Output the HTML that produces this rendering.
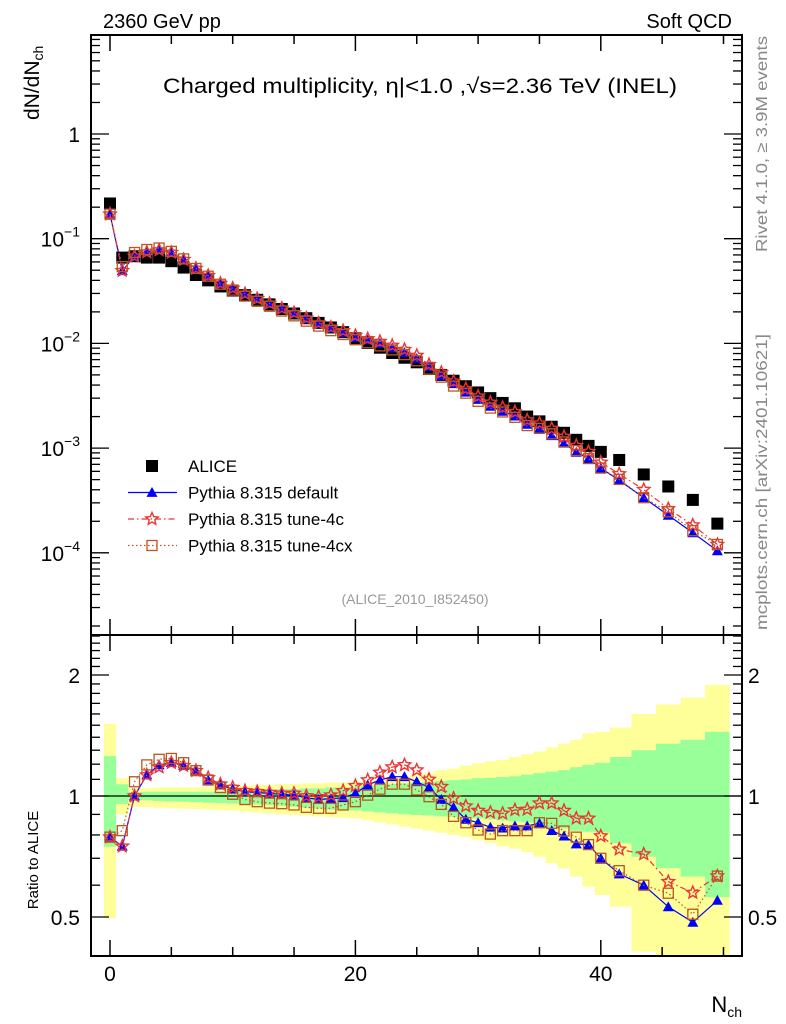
<!DOCTYPE html>
<html><head><meta charset="utf-8"><style>
html,body{margin:0;padding:0;background:#fff;}
svg{display:block;font-family:"Liberation Sans",sans-serif;}
</style></head><body>
<svg id="chart" width="786" height="1024" viewBox="0 0 786 1024" xmlns="http://www.w3.org/2000/svg">
<defs>
<clipPath id="clipMain"><rect x="91" y="35" width="651" height="600"/></clipPath>
<clipPath id="clipRatio"><rect x="91" y="635" width="651" height="321"/></clipPath>
</defs>
<g id="bands" clip-path="url(#clipRatio)"></g>
<g id="series"></g>
<g id="axes"></g>
<text x="103" y="28" font-size="20">2360 GeV pp</text>
<text x="732" y="28" font-size="20" text-anchor="end">Soft QCD</text>
<text x="163" y="93" font-size="21" textLength="514" lengthAdjust="spacingAndGlyphs">Charged multiplicity, η|&lt;1.0 ,√s=2.36 TeV (INEL)</text>
<text x="415" y="604" font-size="14" fill="#999" text-anchor="middle">(ALICE_2010_I852450)</text>
<text transform="translate(39,120) rotate(-90)" font-size="21">dN/dN<tspan font-size="14" dy="4">ch</tspan></text>
<text transform="translate(38,860) rotate(-90)" font-size="15" text-anchor="middle">Ratio to ALICE</text>
<text x="742" y="1012" font-size="22" text-anchor="end">N<tspan font-size="14" dy="5">ch</tspan></text>
<text transform="translate(767,252) rotate(-90)" font-size="16" fill="#888" textLength="216" lengthAdjust="spacingAndGlyphs">Rivet 4.1.0, ≥ 3.9M events</text>
<text transform="translate(767,630) rotate(-90)" font-size="16" fill="#888" textLength="296" lengthAdjust="spacingAndGlyphs">mcplots.cern.ch [arXiv:2401.10621]</text>
<g id="legend"></g>
</svg>
<script>
const nch = [0,1,2,3,4,5,6,7,8,9,10,11,12,13,14,15,16,17,18,19,20,21,22,23,24,25,26,27,28,29,30,31,32,33,34,35,36,37,38,39,40,41.5,43.5,45.5,47.5,49.5];
const alice = [0.217,0.066,0.068,0.066,0.066,0.061,0.053,0.045,0.040,0.035,0.032,0.0289,0.0261,0.0236,0.0213,0.0193,0.0174,0.0157,0.0142,0.0128,0.0112,0.0101,0.0091,0.0081,0.0073,0.0066,0.0057,0.0050,0.0044,0.0039,0.0034,0.0030,0.0027,0.0024,0.0020,0.0018,0.0016,0.0014,0.0012,0.00105,0.00092,0.00077,0.00056,0.00043,0.00032,0.00019];
const ratioDefault = [0.79,0.75,1.0,1.128,1.195,1.21,1.19,1.156,1.096,1.065,1.04,1.025,1.02,1.015,1.01,1.005,0.99,0.98,0.985,0.99,1.015,1.065,1.096,1.117,1.117,1.085,1.05,0.98,0.937,0.875,0.858,0.836,0.832,0.842,0.842,0.855,0.82,0.795,0.76,0.757,0.70,0.64,0.60,0.53,0.485,0.55];
const ratio4c = [0.79,0.75,1.0,1.128,1.18,1.21,1.19,1.156,1.11,1.07,1.05,1.03,1.025,1.02,1.015,1.015,1.0,0.995,1.005,1.03,1.06,1.096,1.145,1.18,1.195,1.16,1.10,1.055,0.987,0.944,0.92,0.91,0.905,0.923,0.926,0.96,0.96,0.92,0.88,0.88,0.795,0.737,0.717,0.612,0.575,0.632];
const ratio4cx = [0.79,0.82,1.085,1.195,1.234,1.24,1.21,1.156,1.096,1.05,1.01,0.98,0.968,0.96,0.957,0.95,0.937,0.932,0.932,0.95,0.968,1.005,1.04,1.07,1.07,1.035,0.996,0.953,0.89,0.858,0.823,0.804,0.82,0.82,0.82,0.858,0.855,0.818,0.79,0.757,0.70,0.652,0.60,0.573,0.508,0.632];
const yellowUp = [1.51,1.107,1.045,1.045,1.05,1.05,1.05,1.05,1.055,1.055,1.06,1.06,1.065,1.065,1.07,1.07,1.075,1.075,1.08,1.08,1.085,1.09,1.1,1.11,1.12,1.13,1.14,1.16,1.17,1.19,1.206,1.22,1.23,1.25,1.27,1.29,1.32,1.35,1.38,1.43,1.445,1.48,1.6,1.69,1.757,1.89];
const greenUp = [1.257,1.07,1.025,1.025,1.025,1.025,1.025,1.025,1.025,1.025,1.03,1.03,1.035,1.035,1.04,1.04,1.045,1.045,1.05,1.05,1.055,1.06,1.065,1.07,1.075,1.08,1.085,1.09,1.095,1.1,1.107,1.11,1.115,1.12,1.13,1.14,1.15,1.16,1.18,1.195,1.21,1.25,1.30,1.35,1.38,1.445];
const greenDn = [0.748,0.956,0.977,0.975,0.972,0.97,0.968,0.965,0.962,0.96,0.957,0.955,0.952,0.95,0.945,0.94,0.935,0.93,0.925,0.922,0.92,0.915,0.91,0.905,0.9,0.897,0.894,0.89,0.886,0.883,0.88,0.875,0.87,0.865,0.86,0.84,0.835,0.83,0.82,0.815,0.81,0.763,0.706,0.661,0.63,0.56];
const yellowDn = [0.497,0.90,0.94,0.938,0.935,0.932,0.93,0.928,0.925,0.922,0.92,0.915,0.91,0.905,0.90,0.898,0.895,0.89,0.886,0.883,0.88,0.87,0.86,0.85,0.84,0.83,0.82,0.81,0.80,0.79,0.777,0.765,0.75,0.74,0.725,0.706,0.68,0.66,0.63,0.595,0.567,0.53,0.41,0.38,0.38,0.38];
const xTickLabels = [0,20,40];
const mainTickExp = [0,-1,-2,-3,-4];
const ratioTickLabels = [0.5,1,2];

const NS="http://www.w3.org/2000/svg";
const X0=91,X1=742,MT=35,MB=635,RT=635,RB=956;
function xs(n){return 110+12.27*n;}
function ym(v){return 134-104.7*Math.log10(v);}
function yr(r){return 796-402*Math.log10(r);}
function mk(tag,attrs,parent){const e=document.createElementNS(NS,tag);for(const k in attrs)e.setAttribute(k,attrs[k]);parent.appendChild(e);return e;}
const bands=document.getElementById('bands'),series=document.getElementById('series'),axes=document.getElementById('axes'),legend=document.getElementById('legend');

const edges=[];
for(let i=0;i<nch.length;i++){
  const lo=i===0?nch[0]-0.5:(nch[i-1]+nch[i])/2;
  const hi=i===nch.length-1?nch[i]+(nch[i]-nch[i-1])/2:(nch[i]+nch[i+1])/2;
  edges.push([lo,hi]);
}
function bandPath(up,dn){
  let top='',bot='';
  for(let i=0;i<nch.length;i++){top+=(i?'L':'M')+xs(edges[i][0])+','+yr(up[i])+'L'+xs(edges[i][1])+','+yr(up[i]);}
  for(let i=nch.length-1;i>=0;i--){bot+='L'+xs(edges[i][1])+','+yr(dn[i])+'L'+xs(edges[i][0])+','+yr(dn[i]);}
  return top+bot+'Z';
}
let p=mk('path',{d:bandPath(yellowUp,yellowDn),fill:'#ffff99'},bands);


p=mk('path',{d:bandPath(greenUp,greenDn),fill:'#99ff99'},bands);


p=mk('line',{x1:X0,x2:X1,y1:yr(1),y2:yr(1),stroke:'#000','stroke-width':1.2},bands);



function triangle(g,x,y,s,col){return mk('path',{d:`M${x},${y-s}L${x+s},${y+s*0.8}L${x-s},${y+s*0.8}Z`,fill:col},g);}
function star(g,x,y,r,col){let d='';for(let k=0;k<10;k++){const a=-Math.PI/2+k*Math.PI/5,rr=k%2?r*0.45:r;d+=(k?'L':'M')+(x+rr*Math.cos(a)).toFixed(1)+','+(y+rr*Math.sin(a)).toFixed(1);}return mk('path',{d:d+'Z',fill:'none',stroke:col,'stroke-width':1.4},g);}
function sq(g,x,y,s,col,fill){return mk('rect',{x:x-s,y:y-s,width:2*s,height:2*s,fill:fill?col:'none',stroke:col,'stroke-width':fill?0:1.3},g);}

const specs=[
 {name:'pythia-default',col:'#0000ff',dash:'',ratio:ratioDefault,m:'tri'},
 {name:'pythia-tune-4c',col:'#ee3333',dash:'6,3,1.5,3',ratio:ratio4c,m:'star'},
 {name:'pythia-tune-4cx',col:'#bb5522',dash:'1.5,2.5',ratio:ratio4cx,m:'sq'}
];
const ga=mk('g',{},series);


ga.setAttribute('clip-path','url(#clipMain)');
for(let i=0;i<nch.length;i++){const r=sq(ga,xs(nch[i]),ym(alice[i]),6,'#000',true);}
function drawMarker(g,m,x,y,col){if(m==='tri')return triangle(g,x,y,5.5,col);if(m==='star')return star(g,x,y,6.5,col);return sq(g,x,y,5,col,false);}
specs.forEach(s=>{
  [['main',ym,'url(#clipMain)'],['ratio',yr,'url(#clipRatio)']].forEach(([panel,yf,clip])=>{
    const g=mk('g',{'clip-path':clip},series);
    
    
    let d='';
    for(let i=0;i<nch.length;i++){const v=panel==='main'?alice[i]*s.ratio[i]:s.ratio[i];d+=(i?'L':'M')+xs(nch[i]).toFixed(1)+','+yf(v).toFixed(1);}
    const l=mk('path',{d:d,fill:'none',stroke:s.col,'stroke-width':1.2,'stroke-dasharray':s.dash},g);
    
    
    for(let i=0;i<nch.length;i++){const v=panel==='main'?alice[i]*s.ratio[i]:s.ratio[i];const e=drawMarker(g,s.m,xs(nch[i]),yf(v),s.col);}
  });
});

[[MT,MB],[RT,RB]].forEach(([t,b],idx)=>{
  const r=mk('rect',{x:X0,y:t,width:X1-X0,height:b-t,fill:'none',stroke:'#000','stroke-width':2},axes);
  
  
  for(let n=0;n<=50;n+=5){
    const x=xs(n),L=(n%20===0)?16:9;
    mk('line',{x1:x,x2:x,y1:b,y2:b-L,stroke:'#000','stroke-width':1.5},axes);
    mk('line',{x1:x,x2:x,y1:t,y2:t+L,stroke:'#000','stroke-width':1.5},axes);
  }
});
xTickLabels.forEach(v=>{const t=mk('text',{x:xs(v),y:981,'font-size':21,'text-anchor':'middle'},axes);t.textContent=v;});
for(let e=1;e>=-5;e--){for(let k=1;k<10;k++){const v=k*Math.pow(10,e);const y=ym(v);if(y<MT||y>MB)continue;const L=k===1?18:9;
  mk('line',{x1:X0,x2:X0+L,y1:y,y2:y,stroke:'#000','stroke-width':1.3},axes);
  mk('line',{x1:X1,x2:X1-L,y1:y,y2:y,stroke:'#000','stroke-width':1.3},axes);}}
mainTickExp.forEach(e=>{const y=ym(Math.pow(10,e));const t=mk('text',{x:80,y:y+8,'font-size':21,'text-anchor':'end'},axes);
  if(e===0)t.textContent='1';else{t.textContent='10';const s=mk('tspan',{dy:-10,'font-size':14},t);s.textContent='−'+(-e);}
  });
[0.4,0.5,0.6,0.7,0.8,0.9,1,1.1,1.2,1.3,1.4,1.5,1.6,1.7,1.8,1.9,2,2.1,2.2,2.3,2.4,2.5].forEach(v=>{const y=yr(v);if(y<RT||y>RB)return;const L=(v===0.5||v===1||v===2)?18:9;
  mk('line',{x1:X0,x2:X0+L,y1:y,y2:y,stroke:'#000','stroke-width':1.3},axes);
  mk('line',{x1:X1,x2:X1-L,y1:y,y2:y,stroke:'#000','stroke-width':1.3},axes);});
ratioTickLabels.forEach(v=>{const y=yr(v)+8;
  let t=mk('text',{x:80,y:y,'font-size':21,'text-anchor':'end'},axes);t.textContent=v;
  t=mk('text',{x:748,y:y,'font-size':21},axes);t.textContent=v;});

const lrows=[['ALICE',null],['Pythia 8.315 default',specs[0]],['Pythia 8.315 tune-4c',specs[1]],['Pythia 8.315 tune-4cx',specs[2]]];
lrows.forEach((r,i)=>{const y=466+i*26.5;const g=mk('g',{},legend);
  
  
  if(!r[1]){sq(g,152,y,6,'#000',true);}else{mk('line',{x1:128,x2:177,y1:y,y2:y,stroke:r[1].col,'stroke-width':1.2,'stroke-dasharray':r[1].dash},g);drawMarker(g,r[1].m,152,y,r[1].col);}
  const t=mk('text',{x:188,y:y+6,'font-size':17},g);t.textContent=r[0];});
</script>
</body></html>
